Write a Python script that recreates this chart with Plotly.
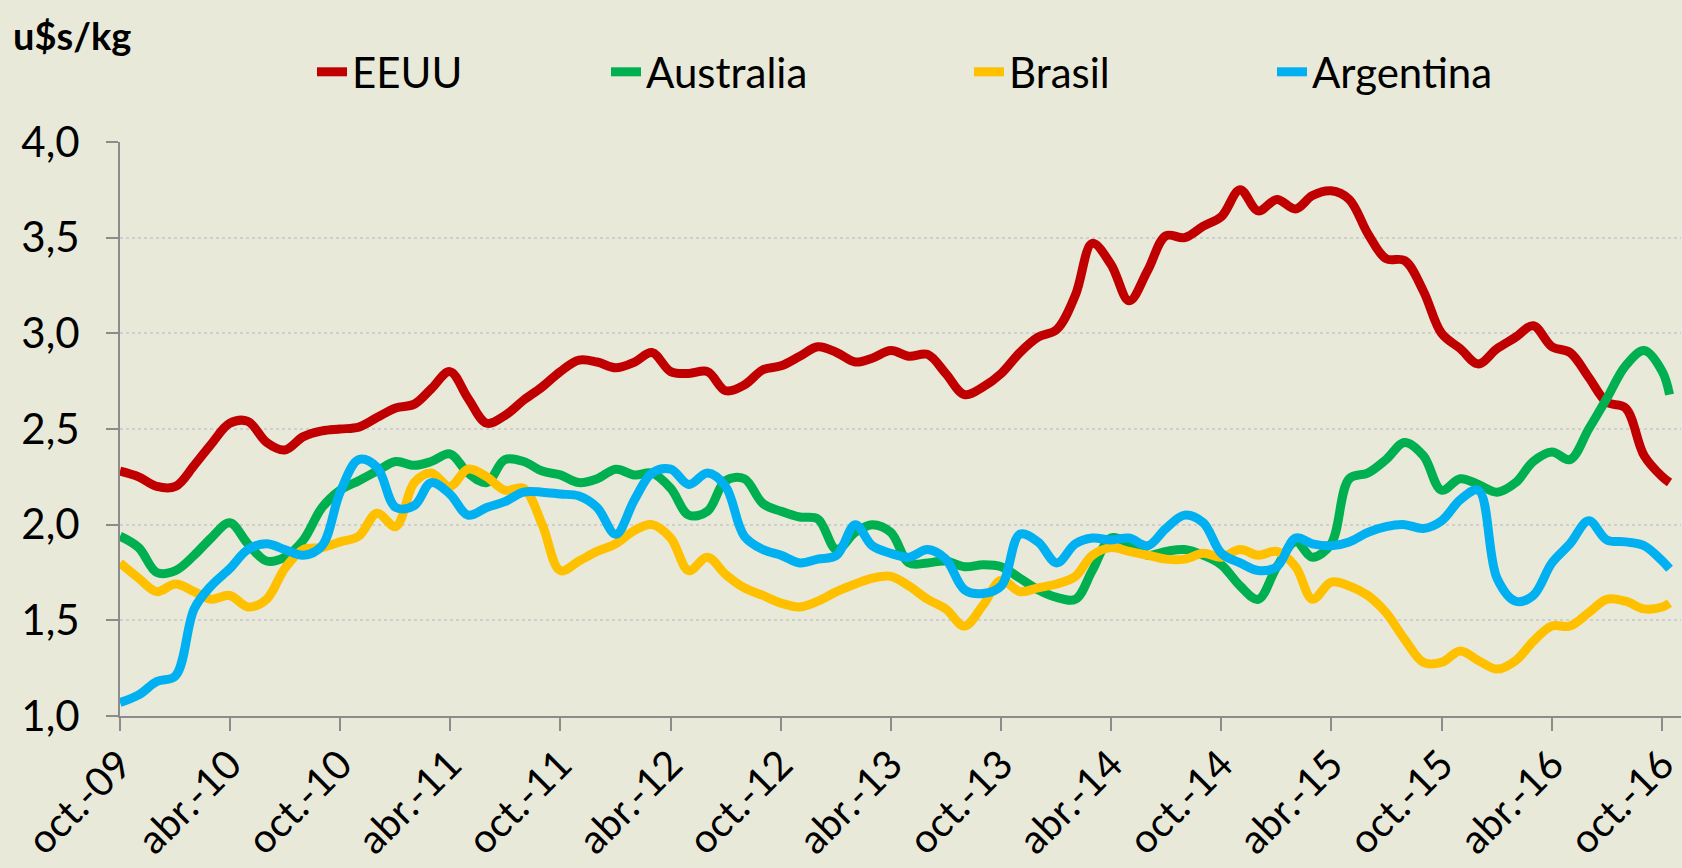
import pandas as pd
import plotly.graph_objects as go

# ---------------- data ----------------
# monthly observations from oct-2009; the last observation is mid-October 2016
months = list(pd.date_range("2009-10-01", "2016-10-01", freq="MS").strftime("%Y-%m-%d")) + ["2016-10-13"]
tick_dates = list(pd.date_range("2009-10-01", "2016-10-01", freq="6MS").strftime("%Y-%m-%d"))
tick_labels = ["oct.-09", "abr.-10", "oct.-10", "abr.-11", "oct.-11", "abr.-12",
               "oct.-12", "abr.-13", "oct.-13", "abr.-14", "oct.-14", "abr.-15",
               "oct.-15", "abr.-16", "oct.-16"]

eeuu = [2.28, 2.25, 2.20, 2.20, 2.31, 2.42, 2.53, 2.54, 2.43, 2.39,
        2.46, 2.49, 2.50, 2.51, 2.56, 2.61, 2.63, 2.71, 2.80, 2.66,
        2.53, 2.57, 2.65, 2.72, 2.80, 2.86, 2.85, 2.82, 2.85, 2.90,
        2.80, 2.79, 2.80, 2.70, 2.73, 2.81, 2.83, 2.88, 2.93, 2.90,
        2.85, 2.87, 2.91, 2.88, 2.89, 2.79, 2.68, 2.72, 2.79, 2.90,
        2.98, 3.02, 3.20, 3.47, 3.36, 3.17, 3.33, 3.51, 3.50, 3.56,
        3.61, 3.75, 3.64, 3.70, 3.65, 3.72, 3.745, 3.70, 3.52, 3.39,
        3.38, 3.22, 3.00, 2.92, 2.84, 2.92, 2.98, 3.04, 2.93, 2.90,
        2.77, 2.64, 2.61, 2.36, 2.25, 2.22]

australia = [1.94, 1.88, 1.75, 1.76, 1.84, 1.93, 2.01, 1.90, 1.81, 1.83,
             1.92, 2.09, 2.18, 2.23, 2.28, 2.33, 2.31, 2.33, 2.37, 2.27,
             2.22, 2.34, 2.33, 2.28, 2.26, 2.22, 2.24, 2.29, 2.26, 2.27,
             2.19, 2.05, 2.07, 2.23, 2.24, 2.11, 2.07, 2.04, 2.03, 1.87,
             1.96, 2.00, 1.96, 1.80, 1.80, 1.81, 1.78, 1.79, 1.78, 1.72,
             1.66, 1.62, 1.61, 1.76, 1.93, 1.90, 1.84, 1.86, 1.87, 1.84,
             1.79, 1.68, 1.61, 1.78, 1.91, 1.83, 1.90, 2.24, 2.27, 2.34,
             2.43, 2.36, 2.18, 2.24, 2.21, 2.17, 2.22, 2.33, 2.38, 2.34,
             2.50, 2.66, 2.83, 2.91, 2.80, 2.68]

brasil = [1.80, 1.72, 1.65, 1.69, 1.65, 1.61, 1.63, 1.57, 1.61, 1.77,
          1.87, 1.88, 1.91, 1.94, 2.06, 1.99, 2.22, 2.27, 2.20, 2.29,
          2.25, 2.18, 2.19, 2.00, 1.76, 1.81, 1.86, 1.90, 1.97, 2.00,
          1.93, 1.76, 1.83, 1.74, 1.67, 1.63, 1.59, 1.57, 1.60, 1.65,
          1.69, 1.72, 1.73, 1.68, 1.61, 1.56, 1.47, 1.58, 1.71, 1.65,
          1.67, 1.69, 1.73, 1.84, 1.88, 1.86, 1.84, 1.82, 1.82, 1.85,
          1.83, 1.87, 1.84, 1.86, 1.78, 1.61, 1.70, 1.68, 1.63, 1.54,
          1.40, 1.28, 1.28, 1.34, 1.29, 1.245, 1.29, 1.39, 1.47, 1.47,
          1.54, 1.61, 1.60, 1.56, 1.57, 1.59]

argentina = [1.07, 1.11, 1.18, 1.21, 1.56, 1.68, 1.77, 1.87, 1.90, 1.87,
             1.84, 1.89, 2.17, 2.34, 2.30, 2.09, 2.10, 2.22, 2.16, 2.05,
             2.09, 2.12, 2.17, 2.17, 2.16, 2.15, 2.09, 1.95, 2.13, 2.27,
             2.29, 2.21, 2.27, 2.20, 1.94, 1.87, 1.84, 1.80, 1.82, 1.84,
             2.00, 1.89, 1.85, 1.83, 1.87, 1.82, 1.66, 1.64, 1.68, 1.95,
             1.91, 1.80, 1.90, 1.93, 1.92, 1.93, 1.89, 1.98, 2.05, 2.01,
             1.85, 1.80, 1.76, 1.78, 1.93, 1.90, 1.89, 1.91, 1.96, 1.99,
             2.00, 1.98, 2.02, 2.13, 2.18, 1.72, 1.60, 1.63, 1.80, 1.90,
             2.02, 1.92, 1.91, 1.89, 1.81, 1.77]

series_names = ["EEUU", "Australia", "Brasil", "Argentina"]
series_values = [eeuu, australia, brasil, argentina]
series_colors = ["#C00000", "#00B050", "#FFC000", "#00B0F0"]
legend_ids = ["legend", "legend2", "legend3", "legend4"]

# ---------------- style ----------------
W, H = 1682, 868
BG = "rgb(233,233,217)"
FONT = "Lato, 'Liberation Sans', Arial, sans-serif"
AXIS_GREY = "#8c8c8c"
legend_text_x = [357, 651, 1014, 1317]   # px where each legend label starts

fig = go.Figure()
for name, vals, col, lid in zip(series_names, series_values, series_colors, legend_ids):
    fig.add_trace(go.Scatter(
        x=months, y=vals, name=name, mode="lines",
        line=dict(color=col, width=9, shape="spline", smoothing=1.0),
        legend=lid,
    ))

legend_common = dict(
    orientation="h", xref="container", yref="container",
    xanchor="left", yanchor="middle", y=1 - 72 / H,
    bgcolor="rgba(0,0,0,0)", font=dict(family=FONT, size=42, color="black"),
    itemwidth=30,
)
legends = {}
for lid, tx in zip(legend_ids, legend_text_x):
    legends[lid] = dict(legend_common, x=(tx - 45) / W)

fig.update_layout(
    width=W, height=H,
    paper_bgcolor=BG, plot_bgcolor=BG,
    margin=dict(l=120, r=1, t=142, b=152, autoexpand=False),
    separators=",.",
    font=dict(family=FONT, size=42, color="black"),
    showlegend=True,
    **legends,
    xaxis=dict(
        type="date",
        range=["2009-10-01", "2016-11-01"],
        tickvals=tick_dates, ticktext=tick_labels,
        tickangle=-45, automargin=False, ticklabeloverflow="allow",
        ticks="outside", ticklen=13, tickwidth=1.5, tickcolor=AXIS_GREY,
        showline=True, linecolor=AXIS_GREY, linewidth=2,
        showgrid=False, zeroline=False,
        tickfont=dict(family=FONT, size=40, color="black"),
        ticklabelstandoff=-6,
    ),
    yaxis=dict(
        range=[1, 4], dtick=0.5, tick0=1, tickformat=".1f", automargin=False,
        ticks="outside", ticklen=12, tickwidth=1.5, tickcolor=AXIS_GREY,
        showline=True, linecolor=AXIS_GREY, linewidth=2,
        showgrid=True, gridcolor="#cfcfcf", griddash="dot", gridwidth=1.5,
        zeroline=False,
        tickfont=dict(family=FONT, size=42, color="black"),
        ticklabelstandoff=18,
    ),
    annotations=[dict(
        text="<b>u$s/kg</b>", xref="paper", yref="paper",
        x=(11 - 120) / 1561, y=1 + (142 - 35) / 574,
        xanchor="left", yanchor="middle", showarrow=False,
        font=dict(family=FONT, size=38, color="black"),
    )],
)

fig.write_html("out.html", config={"displayModeBar": False},
               post_script="document.body.style.margin='0';")
